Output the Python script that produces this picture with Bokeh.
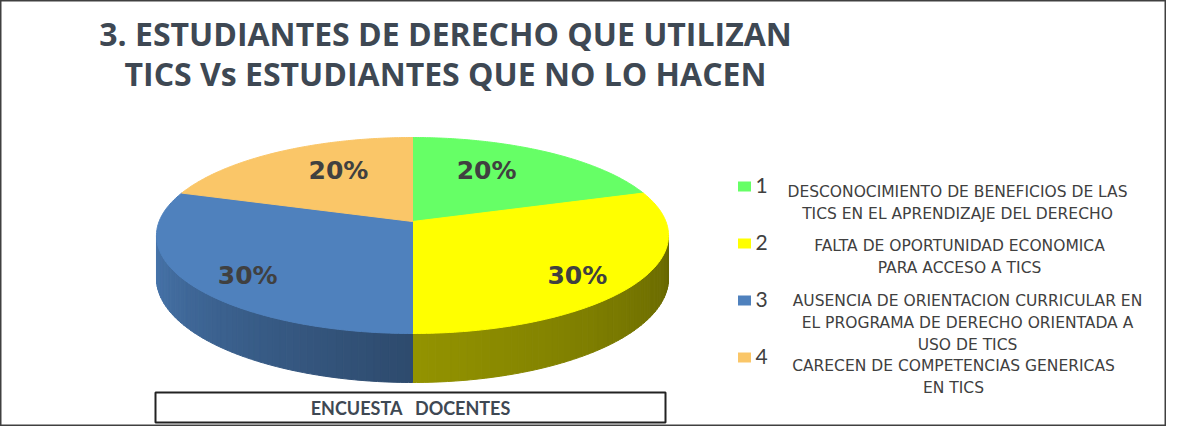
import numpy as np
from bokeh.plotting import figure
from bokeh.models import Range1d
from bokeh.embed import file_html
from bokeh.resources import INLINE
from bokeh.core.properties import value

# ---------------- data ----------------
title_lines = ["3. ESTUDIANTES DE DERECHO QUE UTILIZAN",
               "TICS Vs ESTUDIANTES QUE NO LO HACEN"]
categories = ["1", "2", "3", "4"]
values = [20, 30, 30, 20]
legend_texts = [
    ["DESCONOCIMIENTO DE BENEFICIOS DE LAS", "TICS EN EL APRENDIZAJE DEL DERECHO"],
    ["FALTA DE OPORTUNIDAD ECONOMICA", "PARA ACCESO A TICS"],
    ["AUSENCIA DE ORIENTACION CURRICULAR EN", "EL PROGRAMA DE DERECHO ORIENTADA A", "USO DE TICS"],
    ["CARECEN DE COMPETENCIAS GENERICAS", "EN TICS"],
]
footer_text = "ENCUESTA\u00a0\u00a0\u00a0DOCENTES"

# ---------------- style / layout ----------------
colors = ["#66FF66", "#FFFF00", "#4F81BD", "#FAC668"]
TEXT = "#404040"
TITLE_COL = "#3E4853"
CX, CY = 412.0, 221.0      # pie centre (px)
R, RS = 253.4, 96.0        # horizontal / vertical radius
P = 1.0 / 7.0              # perspective strength
DEPTH = 42.0               # side thickness
START = 90.0

W, H = 1166, 426
p = figure(width=W, height=H, x_range=Range1d(0, W), y_range=Range1d(H, 0),
           x_axis_type=None, y_axis_type=None, toolbar_location=None,
           output_backend="svg", min_border=0,
           background_fill_color="white", border_fill_color="white",
           outline_line_color="#404040", outline_line_width=2)
p.xgrid.visible = False
p.ygrid.visible = False


def proj(theta_deg, drop=0.0):
    t = np.radians(theta_deg)
    k = 1.0 / (1.0 + P * np.sin(t))
    x = CX + R * np.cos(t) * k
    y = CY - RS * np.sin(t) * k + drop * k
    return x, y


# slice angles
total = float(sum(values))
bounds = [START]
for v in values:
    bounds.append(bounds[-1] - v / total * 360.0)

# ---------------- sides (visible front rim) ----------------
vis_lo = -180.0 + np.degrees(np.arcsin(P))   # left silhouette
vis_hi = -np.degrees(np.arcsin(P))           # right silhouette


def shade(theta):
    return float(np.interp(theta, [-172, -90, -8], [0.92, 0.58, 0.40]))


def darker(hexcol, f):
    h = hexcol.lstrip("#")
    r, g, b = (int(h[i:i + 2], 16) for i in (0, 2, 4))
    return "#%02x%02x%02x" % (int(r * f), int(g * f), int(b * f))


sx, sy, sc = [], [], []
for i in range(len(values)):
    a0, a1 = bounds[i], bounds[i + 1]          # a0 > a1 (clockwise)
    for off in (0.0, -360.0, 360.0):
        hi = min(a0 + off, vis_hi)
        lo = max(a1 + off, vis_lo)
        if hi > lo:
            n = max(2, int((hi - lo) / 1.5))
            edges = np.linspace(lo, hi, n + 1)
            for j in range(n):
                t0, t1 = edges[j], edges[j + 1]
                ts = np.linspace(t0, t1, 3)
                xt, yt = proj(ts)
                xb, yb = proj(ts[::-1], DEPTH)
                sx.append(list(xt) + list(xb))
                sy.append(list(yt) + list(yb))
                sc.append(darker(colors[i], shade((t0 + t1) / 2)))
p.patches(sx, sy, fill_color=sc, line_color=sc, line_width=1)

# ---------------- top faces ----------------
tx, ty = [], []
for i in range(len(values)):
    ts = np.linspace(bounds[i], bounds[i + 1], 120)
    x, y = proj(ts)
    tx.append([CX] + list(x))
    ty.append([CY] + list(y))
p.patches(tx, ty, fill_color=colors, line_color=colors, line_width=1)

# ---------------- percentage labels ----------------
lx, ly, lt = [], [], []
for i, v in enumerate(values):
    mid = np.radians((bounds[i] + bounds[i + 1]) / 2.0)
    k = 1.0 / (1.0 + P * np.sin(mid))
    fx = 0.66 - 0.13 * np.sin(mid)
    lx.append(CX + R * np.cos(mid) * k * fx)
    ly.append(CY - RS * np.sin(mid) * k * 0.80 + 5)
    lt.append("%d%%" % round(v / total * 100))
p.text(lx, ly, text=lt, text_align="center", text_baseline="middle",
       text_font=value("DejaVu Sans"), text_font_style="bold",
       text_font_size="25px", text_color=TEXT)

# ---------------- title ----------------
p.text([445, 445], [33, 73], text=title_lines, text_align="center",
       text_baseline="middle", text_font=value("Open Sans"), text_font_style="bold",
       text_font_size="32px", text_color=TITLE_COL)

# ---------------- legend ----------------
sq_y = [186 + 57 * i for i in range(len(categories))]
p.rect([744] * len(categories), sq_y, width=13, height=10,
       fill_color=colors, line_color=None)
p.text([755] * len(categories), [y - 1 for y in sq_y], text=categories,
       text_align="left", text_baseline="middle", text_font=value("Lato"),
       text_font_size="21px", text_color=TEXT)
first_line_y = [191, 245, 300, 365]
centre_x = [957, 959, 967, 953]
gx, gy, gt = [], [], []
for i, lines in enumerate(legend_texts):
    for j, line in enumerate(lines):
        gx.append(centre_x[i])
        gy.append(first_line_y[i] + 22 * j)
        gt.append(line)
p.text(gx, gy, text=gt, text_align="center", text_baseline="middle",
       text_font=value("DejaVu Sans"), text_font_size="15.5px", text_color=TEXT)

# ---------------- footer box ----------------
p.quad(left=[155], right=[665], top=[392], bottom=[422], fill_color="white",
       line_color="#222222", line_width=2)
p.text([410], [407], text=[footer_text], text_align="center", text_baseline="middle",
       text_font=value("Lato"), text_font_style="bold", text_font_size="18px",
       text_color=TITLE_COL)

open("out.html", "w").write(file_html(p, INLINE))
